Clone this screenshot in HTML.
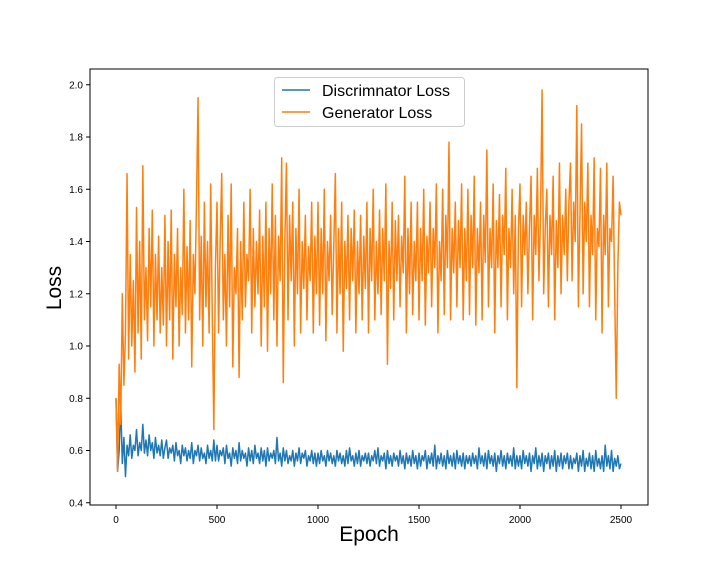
<!DOCTYPE html>
<html><head><meta charset="utf-8"><style>
body{margin:0;background:#fff}
svg{display:block;font-family:"Liberation Sans","DejaVu Sans",sans-serif}
</style></head><body>
<svg id="chart" width="720" height="576">
<rect x="0" y="0" width="720" height="576" fill="#fff"/>
<g id="series"></g>
<rect x="90" y="69" width="558" height="436" fill="none" stroke="#000" stroke-width="1"/>
<g id="axes"></g>
<text x="369" y="541" font-size="21" text-anchor="middle">Epoch</text>
<text x="0" y="0" font-size="21" text-anchor="middle" transform="translate(61,288) rotate(-90)">Loss</text>
<g>
<rect x="274.5" y="77.5" width="190" height="49" rx="3" fill="#fff" fill-opacity="0.8" stroke="#ccc"/>
<line x1="282" y1="90" x2="310" y2="90" stroke="#1f77b4" stroke-width="1.5"/>
<text x="322" y="96" font-size="16">Discrimnator Loss</text>
<line x1="282" y1="112" x2="310" y2="112" stroke="#ff7f0e" stroke-width="1.5"/>
<text x="322" y="118" font-size="16">Generator Loss</text>
</g>
</svg>
<script>
const xTicks=[0,500,1000,1500,2000,2500];
const yTicks=[0.4,0.6,0.8,1.0,1.2,1.4,1.6,1.8,2.0];
const yTickLabels=["0.4","0.6","0.8","1.0","1.2","1.4","1.6","1.8","2.0"];
const maxEpoch=2500;
const generatorLoss=[
0.80,0.52,0.93,0.70,1.20,0.85,1.05,1.66,0.95,1.35,1.00,1.25,0.90,1.53,1.05,1.40,0.95,1.69,1.10,1.30,1.02,1.45,1.15,1.52,1.00,1.35,1.10,1.42,1.05,1.30,1.08,1.50,
1.00,1.40,1.10,1.52,0.95,1.35,1.15,1.45,1.00,1.30,1.12,1.60,1.05,1.38,1.10,1.48,0.92,1.35,1.20,1.55,1.95,1.10,1.42,1.00,1.55,1.15,1.40,1.05,1.62,1.12,0.68,1.30,
1.55,1.05,1.40,1.66,1.10,1.35,1.00,1.50,1.15,1.62,0.92,1.30,1.20,1.45,0.88,1.40,1.10,1.55,1.15,1.35,1.25,1.60,1.05,1.45,1.15,1.40,1.20,1.52,1.00,1.42,1.15,1.55,
0.98,1.45,1.20,1.62,1.10,1.50,1.00,1.42,1.25,1.72,0.86,1.40,1.70,1.10,1.50,1.25,1.55,1.00,1.45,1.20,1.60,1.05,1.40,1.22,1.50,1.10,1.38,1.25,1.55,1.05,1.42,1.20,
1.55,1.08,1.45,1.20,1.60,1.02,1.40,1.25,1.50,1.12,1.38,1.66,1.05,1.45,1.20,1.55,0.98,1.40,1.22,1.50,1.10,1.45,1.25,1.52,1.05,1.40,1.20,1.50,1.10,1.42,1.22,1.55,
1.05,1.45,1.25,1.60,1.10,1.40,1.20,1.52,1.12,1.45,1.25,1.62,0.93,1.40,1.22,1.55,1.10,1.48,1.25,1.50,1.15,1.42,1.28,1.65,1.05,1.45,1.20,1.55,1.12,1.40,1.25,1.55,
1.10,1.45,1.25,1.60,1.08,1.42,1.28,1.55,1.15,1.45,1.30,1.62,1.05,1.40,1.25,1.60,1.12,1.50,1.30,1.78,1.10,1.45,1.28,1.55,1.15,1.48,1.30,1.62,1.10,1.45,1.25,1.60,
1.12,1.50,1.30,1.65,1.08,1.45,1.28,1.55,1.10,1.50,1.32,1.75,1.15,1.45,1.30,1.62,1.05,1.48,1.30,1.58,1.15,1.50,1.35,1.68,1.10,1.45,1.30,1.60,1.20,1.50,0.84,1.45,
1.62,1.15,1.50,1.35,1.55,1.20,1.45,1.65,1.10,1.50,1.35,1.68,1.25,1.50,1.98,1.20,1.45,1.60,1.15,1.50,1.35,1.65,1.10,1.48,1.30,1.70,1.20,1.50,1.35,1.60,1.25,1.55,
1.70,1.25,1.55,1.40,1.92,1.15,1.50,1.85,1.20,1.55,1.40,1.70,1.15,1.50,1.35,1.72,1.10,1.45,1.38,1.68,1.05,1.50,1.35,1.70,1.15,1.45,1.40,1.65,1.20,0.80,1.30,1.55,
1.50];
const discriminatorLoss=[
0.80,0.52,0.60,0.78,0.55,0.65,0.50,0.62,0.58,0.66,0.57,0.62,0.60,0.68,0.58,0.63,0.60,0.70,0.59,0.64,0.58,0.66,0.60,0.63,0.57,0.65,0.59,0.62,0.58,0.64,0.57,0.61,
0.64,0.57,0.61,0.59,0.62,0.56,0.63,0.58,0.60,0.55,0.62,0.58,0.61,0.56,0.60,0.57,0.63,0.55,0.60,0.58,0.62,0.56,0.61,0.57,0.59,0.55,0.62,0.57,0.60,0.56,0.64,0.56,
0.62,0.56,0.60,0.58,0.61,0.55,0.62,0.57,0.59,0.54,0.61,0.57,0.60,0.55,0.63,0.56,0.60,0.57,0.59,0.54,0.61,0.56,0.60,0.55,0.62,0.57,0.59,0.55,0.61,0.56,0.60,0.54,
0.61,0.56,0.59,0.57,0.60,0.55,0.65,0.56,0.59,0.54,0.61,0.56,0.60,0.55,0.58,0.56,0.60,0.54,0.59,0.56,0.61,0.55,0.59,0.57,0.60,0.54,0.58,0.56,0.60,0.55,0.59,0.54,
0.59,0.55,0.60,0.56,0.58,0.54,0.60,0.56,0.59,0.55,0.58,0.54,0.60,0.56,0.59,0.55,0.58,0.54,0.60,0.55,0.61,0.56,0.58,0.54,0.59,0.55,0.60,0.54,0.58,0.56,0.59,0.55,
0.59,0.54,0.58,0.56,0.60,0.55,0.61,0.54,0.58,0.56,0.59,0.53,0.60,0.55,0.58,0.54,0.59,0.56,0.58,0.54,0.60,0.55,0.58,0.53,0.59,0.55,0.58,0.54,0.60,0.55,0.58,0.53,
0.59,0.54,0.58,0.56,0.60,0.53,0.58,0.55,0.59,0.54,0.62,0.53,0.58,0.55,0.59,0.54,0.58,0.53,0.60,0.55,0.58,0.54,0.59,0.53,0.60,0.55,0.58,0.54,0.59,0.53,0.58,0.55,
0.58,0.54,0.59,0.55,0.58,0.53,0.61,0.55,0.58,0.54,0.59,0.53,0.60,0.55,0.58,0.54,0.59,0.52,0.58,0.55,0.60,0.54,0.58,0.53,0.59,0.55,0.58,0.54,0.61,0.53,0.58,0.54,
0.58,0.53,0.60,0.55,0.58,0.54,0.59,0.52,0.58,0.55,0.61,0.53,0.58,0.54,0.59,0.52,0.58,0.55,0.59,0.53,0.58,0.54,0.60,0.52,0.58,0.54,0.59,0.53,0.58,0.55,0.59,0.53,
0.58,0.53,0.57,0.55,0.59,0.52,0.58,0.54,0.60,0.52,0.57,0.54,0.59,0.53,0.58,0.52,0.60,0.54,0.57,0.53,0.58,0.52,0.62,0.54,0.58,0.53,0.60,0.52,0.57,0.54,0.58,0.53,
0.55];

const NS="http://www.w3.org/2000/svg";
const xS=v=>116+v*(505/2500);
const yS=v=>346-(v-1.0)*261.25;
const axes=document.getElementById('axes');
xTicks.forEach(t=>{
  const l=document.createElementNS(NS,'line');
  l.setAttribute('x1',xS(t));l.setAttribute('x2',xS(t));l.setAttribute('y1',505);l.setAttribute('y2',509);l.setAttribute('stroke','#000');
  
  
  axes.appendChild(l);
  const tx=document.createElementNS(NS,'text');
  tx.setAttribute('x',xS(t));tx.setAttribute('y',523);tx.setAttribute('font-size','10');tx.setAttribute('text-anchor','middle');
  tx.textContent=t;
  
  
  axes.appendChild(tx);
});
yTicks.forEach((t,i)=>{
  const l=document.createElementNS(NS,'line');
  l.setAttribute('x1',86);l.setAttribute('x2',90);l.setAttribute('y1',yS(t));l.setAttribute('y2',yS(t));l.setAttribute('stroke','#000');
  
  
  axes.appendChild(l);
  const tx=document.createElementNS(NS,'text');
  tx.setAttribute('x',83);tx.setAttribute('y',yS(t)+3.5);tx.setAttribute('font-size','10');tx.setAttribute('text-anchor','end');
  tx.textContent=yTickLabels[i];
  
  
  axes.appendChild(tx);
});
const g=document.getElementById('series');
function draw(arr,color,name){
  const step=maxEpoch/(arr.length-1);
  const d=arr.map((v,i)=>(i?'L':'M')+xS(i*step).toFixed(2)+','+yS(v).toFixed(2)).join('');
  const p=document.createElementNS(NS,'path');
  p.setAttribute('d',d);p.setAttribute('fill','none');p.setAttribute('stroke',color);p.setAttribute('stroke-width','1.5');p.setAttribute('stroke-linejoin','round');
  
  
  g.appendChild(p);
}
draw(discriminatorLoss,'#1f77b4','discriminator-loss-line');
draw(generatorLoss,'#ff7f0e','generator-loss-line');
</script>
</body></html>
